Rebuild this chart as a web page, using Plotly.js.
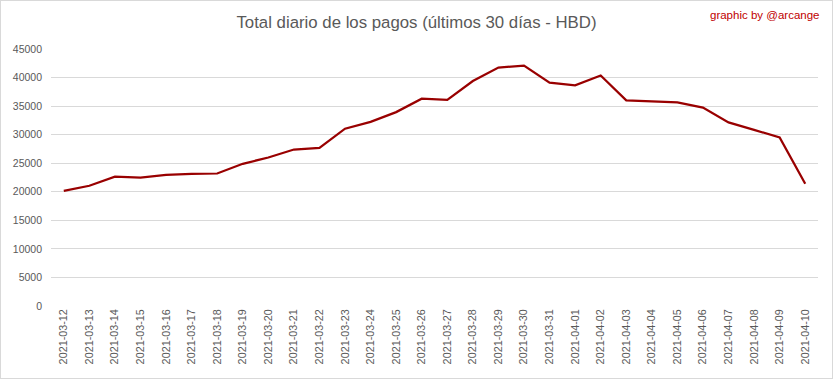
<!DOCTYPE html>
<html>
<head>
<meta charset="utf-8">
<script src="https://cdn.plot.ly/plotly-3.0.1.min.js"></script>
<style>
html,body{margin:0;padding:0;background:#fff;}
#wrap{position:relative;width:833px;height:379px;}
#chart{width:833px;height:379px;}
#frame{position:absolute;left:0;top:0;width:831px;height:377px;border:1px solid #d9d9d9;pointer-events:none;}
</style>
</head>
<body>
<div id="wrap"><div id="chart"></div><div id="frame"></div></div>
<script>
const dates = ["2021-03-12","2021-03-13","2021-03-14","2021-03-15","2021-03-16","2021-03-17","2021-03-18","2021-03-19","2021-03-20","2021-03-21","2021-03-22","2021-03-23","2021-03-24","2021-03-25","2021-03-26","2021-03-27","2021-03-28","2021-03-29","2021-03-30","2021-03-31","2021-04-01","2021-04-02","2021-04-03","2021-04-04","2021-04-05","2021-04-06","2021-04-07","2021-04-08","2021-04-09","2021-04-10"];
const totals = [20150,21050,22650,22500,22950,23150,23200,24900,26000,27400,27700,31050,32250,33950,36300,36100,39400,41750,42100,39100,38650,40350,36000,35850,35650,34750,32150,30850,29500,21400];
const yTicks = [0,5000,10000,15000,20000,25000,30000,35000,40000,45000];

Plotly.newPlot('chart', [{
  x: dates,
  y: totals,
  type: 'scatter',
  mode: 'lines',
  line: {color: '#990000', width: 2.25},
  hoverinfo: 'x+y'
}], {
  width: 833, height: 379,
  margin: {l: 51, r: 15, t: 49, b: 73},
  paper_bgcolor: '#ffffff',
  plot_bgcolor: '#ffffff',
  showlegend: false,
  title: {
    text: 'Total diario de los pagos (últimos 30 días - HBD)',
    font: {family: 'Liberation Sans, Arial, sans-serif', size: 16.8, color: '#595959'},
    x: 0.5, xanchor: 'center', y: 0.942, yanchor: 'middle', yref: 'container'
  },
  xaxis: {
    type: 'category',
    range: [-0.5, dates.length - 0.5],
    tickangle: -90,
    showgrid: false,
    zeroline: false,
    showline: false,
    ticks: '',
    tickfont: {family: 'Liberation Sans, Arial, sans-serif', size: 10.8, color: '#595959'},
    automargin: false
  },
  yaxis: {
    range: [0, 45000],
    tickvals: yTicks,
    ticktext: yTicks.map(String),
    showgrid: true,
    gridcolor: '#d9d9d9',
    gridwidth: 1,
    zeroline: false,
    showline: false,
    ticks: '',
    ticklabelstandoff: 8,
    tickfont: {family: 'Liberation Sans, Arial, sans-serif', size: 10.5, color: '#595959'},
    automargin: false
  },
  annotations: [{
    text: 'graphic by @arcange',
    xref: 'paper', yref: 'paper',
    x: 1.0, y: 1.0, xanchor: 'right', yanchor: 'middle',
    xshift: 4, yshift: 34,
    showarrow: false,
    font: {family: 'Liberation Sans, Arial, sans-serif', size: 11.5, color: '#c00000'}
  }]
}, {displayModeBar: false, staticPlot: true});
</script>
</body>
</html>
